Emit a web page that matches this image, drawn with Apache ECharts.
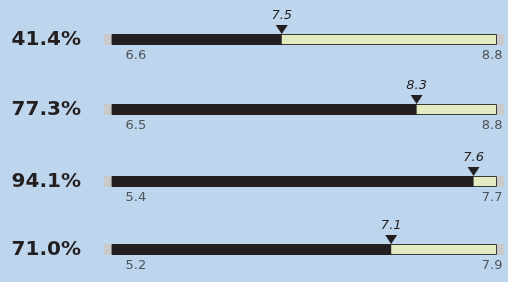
<!DOCTYPE html>
<html>
<head>
<meta charset="utf-8">
<script src="https://cdn.jsdelivr.net/npm/echarts@6/dist/echarts.min.js"></script>
<style>
  html, body { margin: 0; padding: 0; background: #bdd5ed; }
  #chart { width: 508px; height: 282px; }
</style>
</head>
<body>
<div id="chart"></div>
<script>
// 每行: 百分比, 最小值, 最大值, 当前值
const percents = ['41.4%', '77.3%', '94.1%', '71.0%']
const mins = [6.56, 6.5, 5.4, 5.24]
const maxs = [8.76, 8.8, 7.7, 7.86]
const values = [7.53, 8.32, 7.56, 7.14]

const rowTops = [34, 104, 176, 244]
const barH = 11
const fmt = v => v.toFixed(1)

const grids = []
const xAxes = []
const yAxes = []
const series = []

percents.forEach((p, i) => {
  // 主区域
  grids.push({ left: 112, width: 385, top: rowTops[i], height: barH })
  xAxes.push({ gridIndex: i, type: 'value', min: mins[i], max: maxs[i], show: false })
  yAxes.push({
    gridIndex: i,
    type: 'category',
    data: [p],
    axisLine: { show: false },
    axisTick: { show: false },
    axisLabel: {
      margin: 31,
      fontFamily: 'DejaVu Sans',
      fontWeight: 'bold',
      fontSize: 20,
      color: '#231f20'
    }
  })

  // 背景条
  series.push({
    type: 'bar',
    xAxisIndex: i,
    yAxisIndex: i,
    data: [maxs[i]],
    barWidth: barH,
    z: 2,
    silent: true,
    itemStyle: { color: '#e3ecc1', borderColor: '#3a3a3a', borderWidth: 1 }
  })
  // 当前值
  series.push({
    type: 'bar',
    xAxisIndex: i,
    yAxisIndex: i,
    data: [values[i]],
    barWidth: barH,
    barGap: '-100%',
    z: 3,
    silent: true,
    itemStyle: { color: '#231f20' }
  })
  // 三角标记
  series.push({
    type: 'scatter',
    xAxisIndex: i,
    yAxisIndex: i,
    data: [[values[i], p]],
    symbol: 'triangle',
    symbolRotate: 180,
    symbolSize: [12, 9],
    symbolOffset: [0, -10],
    z: 4,
    silent: true,
    itemStyle: { color: '#231f20', opacity: 1 },
    label: {
      show: true,
      position: 'top',
      distance: 3,
      formatter: () => fmt(values[i]),
      fontFamily: 'DejaVu Sans',
      fontStyle: 'italic',
      fontSize: 13,
      color: '#231f20'
    }
  })
  // 最小 / 最大值标签
  series.push({
    type: 'scatter',
    xAxisIndex: i,
    yAxisIndex: i,
    symbolSize: 1,
    z: 4,
    silent: true,
    itemStyle: { color: 'transparent' },
    data: [
      {
        value: [mins[i], p],
        label: { position: [14, 17], align: 'left', formatter: fmt(mins[i]) }
      },
      {
        value: [maxs[i], p],
        label: { position: [6, 17], align: 'right', formatter: fmt(maxs[i]) }
      }
    ],
    label: {
      show: true,
      verticalAlign: 'middle',
      fontFamily: 'DejaVu Sans',
      fontSize: 13,
      color: '#333333'
    }
  })
})

// 灰色端头
percents.forEach((p, i) => {
  const g = grids.length
  grids.push({ left: 104, width: 400, top: rowTops[i], height: barH })
  xAxes.push({ gridIndex: g, type: 'value', min: 0, max: 1, show: false })
  yAxes.push({ gridIndex: g, type: 'category', data: [p], show: false })
  series.push({
    type: 'bar',
    xAxisIndex: g,
    yAxisIndex: g,
    data: [1],
    barWidth: barH,
    z: 1,
    silent: true,
    itemStyle: { color: '#c9c9c9' }
  })
})

const chart = echarts.init(document.getElementById('chart'))
chart.setOption({
  backgroundColor: '#bdd5ed',
  animation: false,
  grid: grids,
  xAxis: xAxes,
  yAxis: yAxes,
  series: series
})
</script>
</body>
</html>
